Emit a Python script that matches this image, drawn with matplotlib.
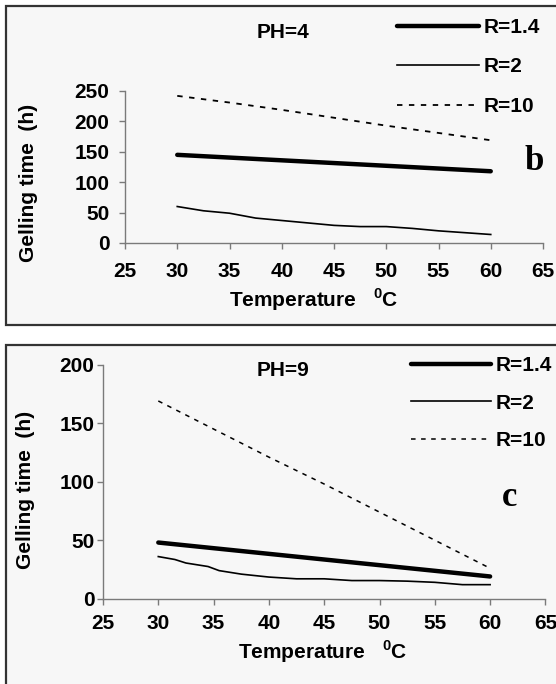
import matplotlib
matplotlib.use("Agg")
import matplotlib.pyplot as plt
from matplotlib.patches import Rectangle

plt.rcParams['font.family'] = ['Liberation Sans', 'DejaVu Sans']
plt.rcParams['font.weight'] = 'bold'
plt.rcParams['mathtext.fontset'] = 'custom'
plt.rcParams['mathtext.bf'] = 'Liberation Sans:bold'
plt.rcParams['mathtext.rm'] = 'Liberation Sans:bold'

# ---- data: PH = 4 (panel b) ----
t4_r14 = [30, 60]
g4_r14 = [145, 118]
t4_r2 = [30, 32.5, 35, 37.5, 40, 42.5, 45, 47.5, 50, 52.5, 55, 57.5, 60]
g4_r2 = [60, 53, 49, 41, 37, 33, 29, 27, 27, 24, 20, 17, 14]
t4_r10 = [30, 35, 40, 45, 50, 55, 60]
g4_r10 = [242, 231, 219, 206, 193, 181, 169]

# ---- data: PH = 9 (panel c) ----
t9_r14 = [30, 60]
g9_r14 = [48, 19]
t9_r2 = [30, 31.5, 32.5, 34.5, 35.5, 37.5, 40, 42.5, 45, 47.5, 50, 52.5, 55, 57.5, 60]
g9_r2 = [36, 33.5, 30.5, 27.5, 24, 21, 18.5, 17, 17, 15.5, 15.5, 15, 14, 12, 12]
t9_r10 = [30, 35, 40, 45, 50, 55, 60]
g9_r10 = [169, 145, 121, 98, 74, 50, 26]

labels = ['R=1.4', 'R=2', 'R=10']
x_ticks = [25, 30, 35, 40, 45, 50, 55, 60, 65]

W, H = 556, 684
fig = plt.figure(figsize=(W / 100, H / 100), dpi=100)
fig.patch.set_facecolor('white')

def fx(px):
    return px / W

def fy(py):
    return 1 - py / H

# panel frames
fig.patches.append(Rectangle((fx(6), fy(325)), 1.2, fy(6) - fy(325),
                             transform=fig.transFigure, facecolor='#f7f7f7',
                             edgecolor='#333333', linewidth=1.6, zorder=-5))
fig.patches.append(Rectangle((fx(6), -0.2), 1.2, fy(345) + 0.2,
                             transform=fig.transFigure, facecolor='#f7f7f7',
                             edgecolor='#333333', linewidth=1.6, zorder=-5))

FS = 15
dash = (0, (3.0, 3.6))

def style_axes(ax, ymax, xpad, ypad):
    ax.set_facecolor('none')
    ax.set_xlim(25, 65)
    ax.set_ylim(0, ymax)
    ax.set_xticks(x_ticks)
    ax.set_yticks(list(range(0, ymax + 1, 50)))
    for s in ['top', 'right']:
        ax.spines[s].set_visible(False)
    for s in ['left', 'bottom']:
        ax.spines[s].set_color('#7a7a7a')
        ax.spines[s].set_linewidth(1.0)
    ax.tick_params(axis='both', direction='out', length=4.2, width=1.0,
                   color='#7a7a7a', labelsize=FS)
    ax.tick_params(axis='x', pad=xpad)
    ax.tick_params(axis='y', pad=ypad)
    for lab in ax.get_xticklabels() + ax.get_yticklabels():
        lab.set_fontweight('bold')

# ---------- top panel ----------
ax1 = fig.add_axes([fx(125), fy(243), fx(543) - fx(125), fy(91) - fy(243)])
l1, = ax1.plot(t4_r14, g4_r14, color='black', lw=3.2, solid_capstyle='round', label=labels[0])
l2, = ax1.plot(t4_r2, g4_r2, color='black', lw=1.2, label=labels[1])
l3, = ax1.plot(t4_r10, g4_r10, color='black', lw=1.3, linestyle=dash, label=labels[2])
style_axes(ax1, 250, 9.5, 7)
leg1 = ax1.legend(handles=[l1, l2, l3], loc='upper left',
                  bbox_to_anchor=(fx(397), fy(18)), bbox_transform=fig.transFigure,
                  frameon=False, fontsize=FS, handlelength=3.94, handletextpad=0.24,
                  labelspacing=0.98, borderpad=0, borderaxespad=0)
for t in leg1.get_texts():
    t.set_fontweight('bold')
fig.text(fx(283), fy(32), 'PH=4', ha='center', va='center', fontsize=FS, fontweight='bold')
fig.text(fx(534), fy(161), 'b', ha='center', va='center', fontsize=25,
         fontweight='bold', family='Liberation Serif')
fig.text(fx(29), fy(183), 'Gelling time  (h)', rotation=90, ha='center', va='center',
         fontsize=FS, fontweight='bold')
fig.text(fx(314), fy(300), r'Temperature   $^{\mathbf{0}}$C', ha='center', va='center',
         fontsize=FS, fontweight='bold')

# ---------- bottom panel ----------
ax2 = fig.add_axes([fx(103), fy(598.7), fx(545.4) - fx(103), fy(364.7) - fy(598.7)])
m1, = ax2.plot(t9_r14, g9_r14, color='black', lw=3.2, solid_capstyle='round', label=labels[0])
m2, = ax2.plot(t9_r2, g9_r2, color='black', lw=1.2, label=labels[1])
m3, = ax2.plot(t9_r10, g9_r10, color='black', lw=1.1, linestyle=dash, label=labels[2])
style_axes(ax2, 200, 6.5, 2)
leg2 = ax2.legend(handles=[m1, m2, m3], loc='upper left',
                  bbox_to_anchor=(fx(411), fy(356)), bbox_transform=fig.transFigure,
                  frameon=False, fontsize=FS, handlelength=3.84, handletextpad=0.24,
                  labelspacing=0.9, borderpad=0, borderaxespad=0)
for t in leg2.get_texts():
    t.set_fontweight('bold')
fig.text(fx(283), fy(370), 'PH=9', ha='center', va='center', fontsize=FS, fontweight='bold')
fig.text(fx(510), fy(497), 'c', ha='center', va='center', fontsize=25,
         fontweight='bold', family='Liberation Serif')
fig.text(fx(26), fy(490), 'Gelling time  (h)', rotation=90, ha='center', va='center',
         fontsize=FS, fontweight='bold')
fig.text(fx(323), fy(652), r'Temperature   $^{\mathbf{0}}$C', ha='center', va='center',
         fontsize=FS, fontweight='bold')

fig.savefig('out.png', dpi=100, facecolor='white')
